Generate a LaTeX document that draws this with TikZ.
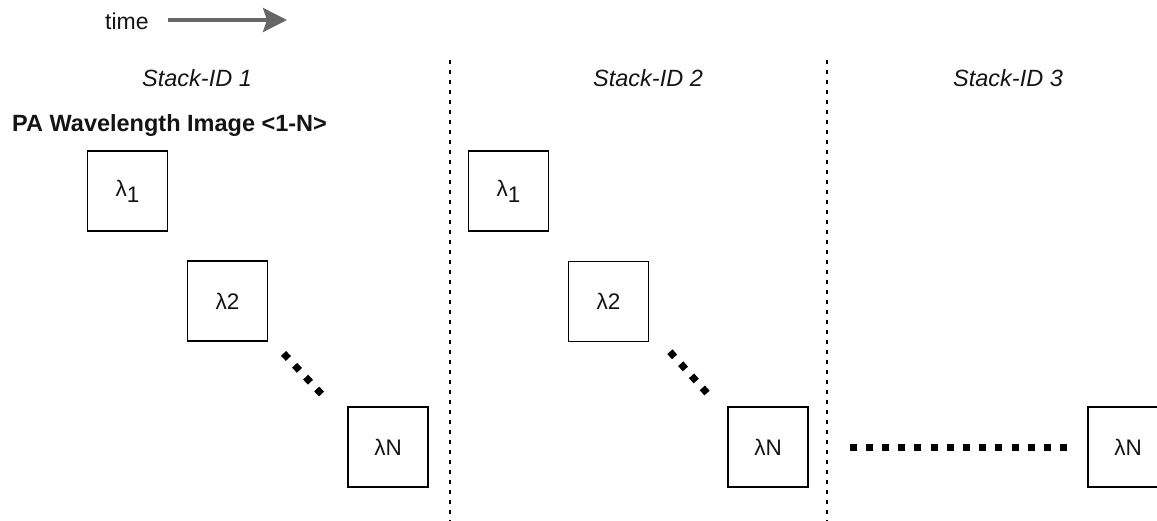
\documentclass[tikz,border=0pt]{standalone}
\usepackage{fontspec}
\setmainfont{Liberation Sans}
\usetikzlibrary{arrows.meta}
\definecolor{arrowgray}{HTML}{666666}
\definecolor{txt}{HTML}{141414}
\begin{document}
\begin{tikzpicture}[x=1pt,y=-1pt,
  lbox/.style={draw,line width=1.7pt,minimum size=80pt,inner sep=0pt,text=txt,font=\fontsize{22.5}{26}\selectfont},
  stacklbl/.style={font=\fontsize{23.5}{27}\selectfont\itshape,text=txt,inner sep=0pt},
  plainlbl/.style={font=\fontsize{23}{27}\selectfont,text=txt,inner sep=0pt},
  dotline/.style={line width=7pt,dash pattern=on 7pt off 9.2pt},
  divider/.style={line width=1.8pt,dash pattern=on 4pt off 6pt},
  timearrow/.style={draw=arrowgray,line width=3.2pt,-{Stealth[length=24pt,width=24pt,inset=4pt]}}]
\useasboundingbox (0,0) rectangle (1157,521);
\clip (0,0) rectangle (1157,521);

% time arrow
\node[plainlbl,anchor=west] (timelbl) at (105,21) {time};
\coordinate (tstart) at (168,20);
\coordinate (tend) at (287,20);
\draw[timearrow] (tstart) -- (tend);

% stack labels
\node[stacklbl] (s1) at (197,78) {Stack-ID 1};
\node[stacklbl] (s2) at (648,78) {Stack-ID 2};
\node[stacklbl] (s3) at (1008,78) {Stack-ID 3};

% title
\node[plainlbl,font=\fontsize{23.5}{27}\selectfont\bfseries,anchor=base west] (title) at (12,132) {PA Wavelength Image <1-N>};

% dividers
\coordinate (d1top) at (450,60);
\coordinate (d1bot) at (450,521);
\coordinate (d2top) at (827,60);
\coordinate (d2bot) at (827,521);
\draw[divider] (d1top) -- (d1bot);
\draw[divider] (d2top) -- (d2bot);

% stack 1
\node[lbox] (a1) at (127.5,191) {λ\raisebox{-0.5ex}{1}};
\node[lbox] (a2) at (227.5,301) {λ2};
\node[lbox] (aN) at (388,447) {λN};
% stack 2
\node[lbox] (b1) at (508.5,191) {λ\raisebox{-0.5ex}{1}};
\node[lbox] (b2) at (608.5,301.5) {λ2};
\node[lbox] (bN) at (768,447) {λN};
% stack 3
\node[lbox] (cN) at (1128,447) {λN};

% ellipsis dots
\coordinate (e1s) at (283.6,353.4);
\coordinate (e1e) at (321.7,394.3);
\draw[dotline] (e1s) -- (e1e);
\coordinate (e2s) at (669.9,351.7);
\coordinate (e2e) at (708.1,394.3);
\draw[dotline] (e2s) -- (e2e);
\coordinate (e3s) at (849.5,447.7);
\coordinate (e3e) at (1067.5,447.7);
\draw[dotline] (e3s) -- (e3e);
\end{tikzpicture}
\end{document}
